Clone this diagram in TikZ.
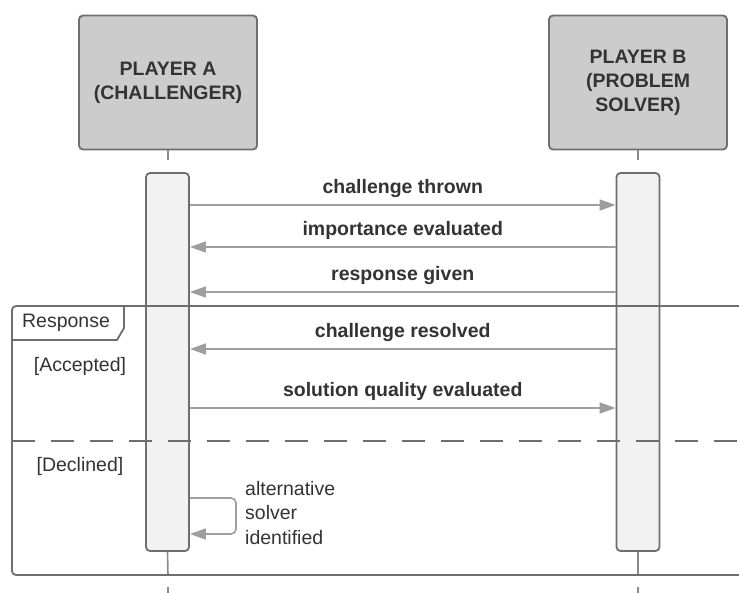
\documentclass[tikz,border=0pt]{standalone}
\usepackage{fontspec}
\setmainfont{Liberation Sans}
\usetikzlibrary{arrows.meta}
\definecolor{boxfill}{HTML}{CCCCCC}
\definecolor{edgecol}{HTML}{6E6E6E}
\definecolor{actfill}{HTML}{F2F2F2}
\definecolor{msgcol}{HTML}{9E9E9E}
\definecolor{lifecol}{HTML}{8A8A8A}
\definecolor{txt}{HTML}{333333}
\begin{document}
\begin{tikzpicture}[x=1pt,y=-1pt,
  bigfont/.style={font=\fontsize{19.5}{24}\selectfont},
  actor/.style={draw=edgecol, fill=boxfill, line width=1.8pt, rounded corners=4pt,
    minimum width=178pt, minimum height=134pt, align=center, inner sep=0pt,
    bigfont, font=\fontsize{19.5}{24}\selectfont\bfseries, text=txt},
  activation/.style={draw=edgecol, fill=actfill, line width=1.8pt, rounded corners=4pt,
    minimum width=43pt, minimum height=378pt, inner sep=0pt},
  lifeline/.style={draw=lifecol, line width=1.6pt},
  framecol/.style={draw=edgecol, line width=1.8pt},
  msg/.style={draw=msgcol, line width=1.6pt, -{Triangle[length=16pt,width=11pt,fill=msgcol]}},
  lbl/.style={midway, anchor=base, yshift=12pt, inner sep=0pt,
    font=\fontsize{19.5}{24}\selectfont\bfseries, text=txt},
  plain/.style={inner sep=0pt, font=\fontsize{19.5}{24}\selectfont, text=txt}
]
\useasboundingbox (0,0) rectangle (739,592);
\clip (0,0) rectangle (739,592);

% actors
\node[actor] (pa) at (168,82.5) {PLAYER A\\(CHALLENGER)};
\node[actor] (pb) at (638,82.5) {PLAYER B\\(PROBLEM\\SOLVER)};

% lifeline coordinates
\coordinate (la1) at (168,160);
\coordinate (lb1) at (638,160);
\coordinate (la2) at (168,575);
\coordinate (lb2) at (638,575);
\coordinate (la3) at (168,587);
\coordinate (lb3) at (638,587);
\coordinate (la4) at (168,596);
\coordinate (lb4) at (638,596);

\draw[lifeline] (pa.south) -- (la1);
\draw[lifeline] (pb.south) -- (lb1);

% activations
\node[activation] (aa) at (167.5,362) {};
\node[activation] (ab) at (638,362) {};

\draw[lifeline] (aa.south) -- (la2);
\draw[lifeline] (ab.south) -- (lb2);
\draw[lifeline] (la3) -- (la4);
\draw[lifeline] (lb3) -- (lb4);

% frame
\draw[framecol, rounded corners=4pt] (760,306) -- (12,306) -- (12,575) -- (760,575);
\draw[framecol] (12,340) -- (117,340) -- (124,328) -- (124,306);
\draw[framecol, dash pattern=on 23pt off 16pt] (12,441) -- (760,441);
\node[plain, anchor=base] (resp) at (66,327) {Response};
\node[plain, anchor=base] (acc) at (80,371) {[Accepted]};
\node[plain, anchor=base] (dec) at (80,471) {[Declined]};

% message levels
\coordinate (y1) at (0,205);
\coordinate (y2) at (0,247);
\coordinate (y3) at (0,292);
\coordinate (y4) at (0,349);
\coordinate (y5) at (0,408);
\coordinate (s1) at (0,498);
\coordinate (s2) at (0,534);
\coordinate (sr) at (236,0);

\draw[msg] (aa.east |- y1) -- (ab.west |- y1) node[lbl] {challenge thrown};
\draw[msg] (ab.west |- y2) -- (aa.east |- y2) node[lbl] {importance evaluated};
\draw[msg] (ab.west |- y3) -- (aa.east |- y3) node[lbl] {response given};
\draw[msg] (ab.west |- y4) -- (aa.east |- y4) node[lbl] {challenge resolved};
\draw[msg] (aa.east |- y5) -- (ab.west |- y5) node[lbl] {solution quality evaluated};

\draw[msg, rounded corners=5pt] (aa.east |- s1) -- (sr |- s1) -- (sr |- s2) -- (aa.east |- s2);
\node[plain, anchor=north west, align=left, font=\fontsize{19.5}{24.5}\selectfont] (alt) at (245,481)
  {alternative\\solver\\identified};
\end{tikzpicture}
\end{document}
